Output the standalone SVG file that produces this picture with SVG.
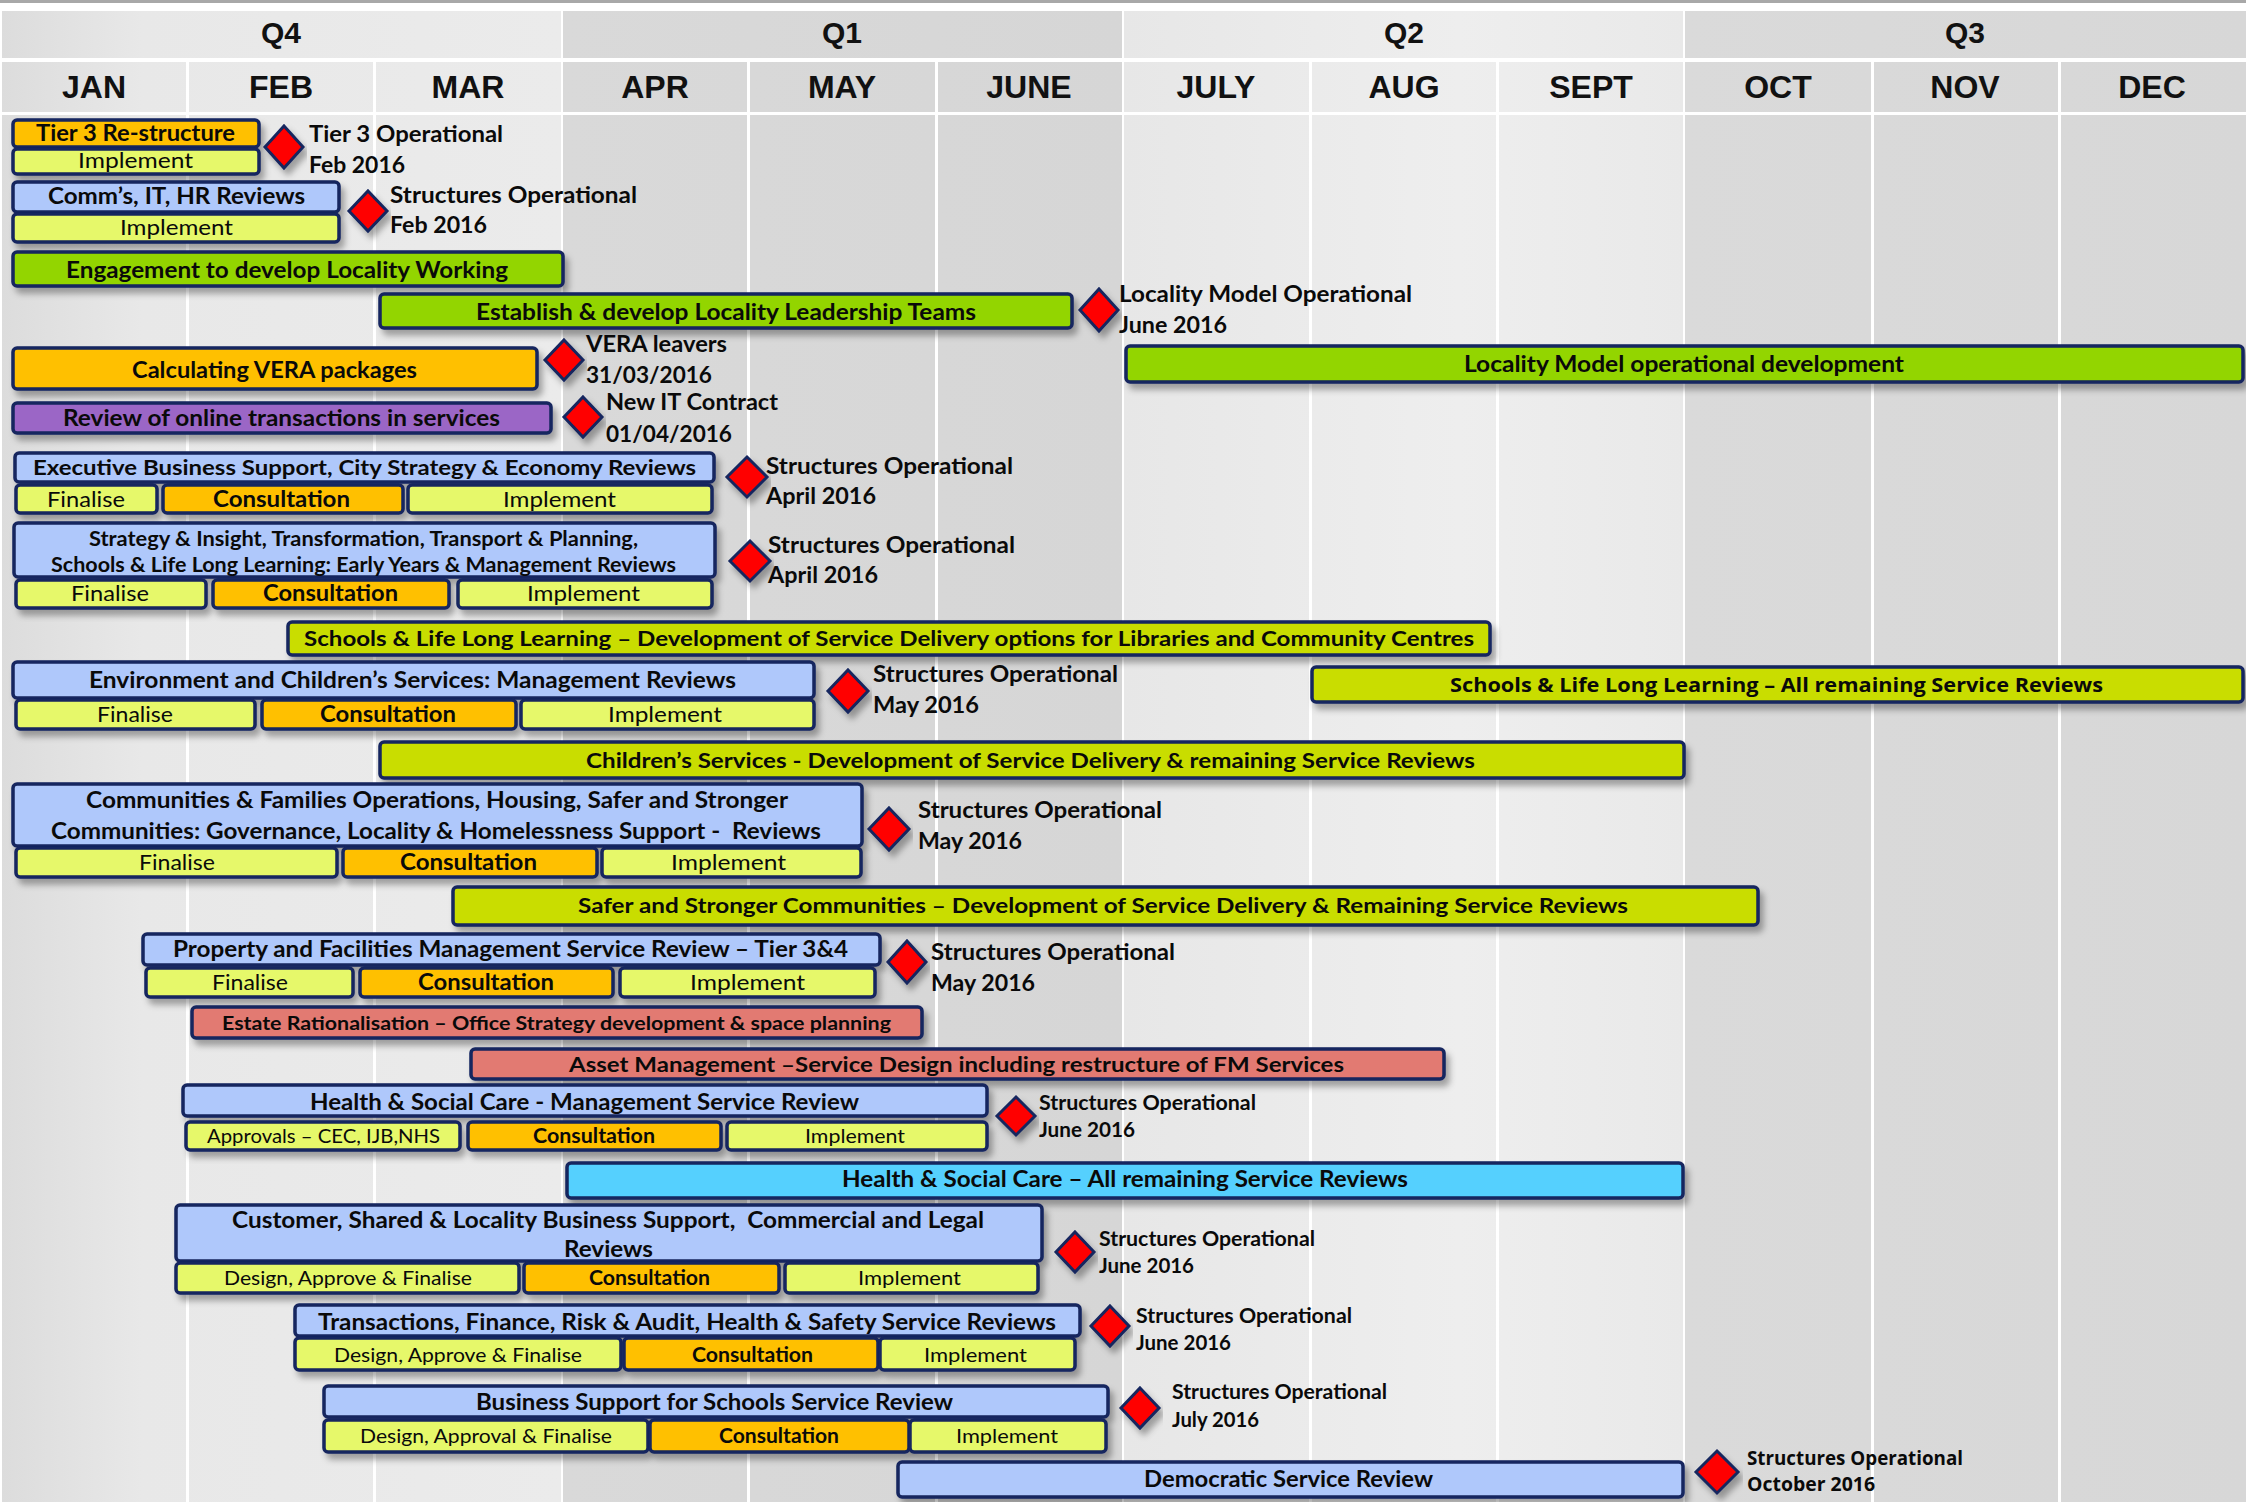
<svg xmlns="http://www.w3.org/2000/svg" width="2246" height="1502" viewBox="0 0 2246 1502">
<defs>
<style>
text{font-family:Lato,'Liberation Sans',sans-serif;fill:#0a0a0a}
.hd{font-family:'Liberation Sans',Arial,sans-serif;font-weight:700;text-anchor:middle;fill:#111}
.b{font-weight:700}
.w{font-family:'Open Sans','DejaVu Sans',sans-serif}
.pre{white-space:pre}
.bar{stroke:#15255e;stroke-width:3.5;filter:url(#sh)}
.or{fill:#FFC000}.yg{fill:#E6F86A}.lb{fill:#AFC8FB}.gr{fill:#93D500}.ch{fill:#C9DD00}.pu{fill:#9B66C6}.sa{fill:#E27A72}.cy{fill:#55D0FE}
.dm{fill:#FF0000;stroke:#15255e;stroke-width:3;stroke-linejoin:miter;filter:url(#sh)}
.vl{fill:#fff}
</style>
<filter id="sh" x="-10%" y="-30%" width="120%" height="180%">
<feDropShadow dx="4" dy="6" stdDeviation="3" flood-color="#000" flood-opacity="0.32"/>
</filter>
<linearGradient id="gQ4" x1="0" y1="0" x2="1" y2="0"><stop offset="0" stop-color="#dcdcdc"/><stop offset="0.25" stop-color="#e8e8e8"/><stop offset="1" stop-color="#ebebeb"/></linearGradient>
<linearGradient id="gQ1" x1="0" y1="0" x2="1" y2="0"><stop offset="0" stop-color="#d9d9d9"/><stop offset="1" stop-color="#d6d6d6"/></linearGradient>
<linearGradient id="gQ2" x1="0" y1="0" x2="1" y2="0"><stop offset="0" stop-color="#e7e7e7"/><stop offset="0.6" stop-color="#eeeeee"/><stop offset="1" stop-color="#e9e9e9"/></linearGradient>
<linearGradient id="gQ3" x1="0" y1="0" x2="1" y2="0"><stop offset="0" stop-color="#dadada"/><stop offset="1" stop-color="#d7d7d7"/></linearGradient>
</defs>
<rect width="2246" height="1502" fill="#fff"/>
<g id="background">
<rect x="0" y="0" width="2246" height="3" fill="#a8a8a8"/>
<rect x="2" y="11" width="559" height="1491" fill="url(#gQ4)"/>
<rect x="563" y="11" width="559" height="1491" fill="url(#gQ1)"/>
<rect x="1124" y="11" width="559" height="1491" fill="url(#gQ2)"/>
<rect x="1685" y="11" width="561" height="1491" fill="url(#gQ3)"/>
<rect class="vl" x="0" y="58" width="2246" height="4"/>
<rect class="vl" x="0" y="112" width="2246" height="3"/>
<rect class="vl" x="186" y="62" width="3" height="1440"/>
<rect class="vl" x="373" y="62" width="3" height="1440"/>
<rect class="vl" x="747" y="62" width="3" height="1440"/>
<rect class="vl" x="935" y="62" width="3" height="1440"/>
<rect class="vl" x="1309" y="62" width="3" height="1440"/>
<rect class="vl" x="1496" y="62" width="3" height="1440"/>
<rect class="vl" x="1871" y="62" width="3" height="1440"/>
<rect class="vl" x="2058" y="62" width="3" height="1440"/>
</g>
<g id="header">
<text class="hd" x="281" y="43" font-size="30">Q4</text>
<text class="hd" x="842" y="43" font-size="30">Q1</text>
<text class="hd" x="1404" y="43" font-size="30">Q2</text>
<text class="hd" x="1965" y="43" font-size="30">Q3</text>
<text class="hd" x="94" y="98" font-size="32">JAN</text>
<text class="hd" x="281" y="98" font-size="32">FEB</text>
<text class="hd" x="468" y="98" font-size="32">MAR</text>
<text class="hd" x="655" y="98" font-size="32">APR</text>
<text class="hd" x="842" y="98" font-size="32">MAY</text>
<text class="hd" x="1029" y="98" font-size="32">JUNE</text>
<text class="hd" x="1216" y="98" font-size="32">JULY</text>
<text class="hd" x="1404" y="98" font-size="32">AUG</text>
<text class="hd" x="1591" y="98" font-size="32">SEPT</text>
<text class="hd" x="1778" y="98" font-size="32">OCT</text>
<text class="hd" x="1965" y="98" font-size="32">NOV</text>
<text class="hd" x="2152" y="98" font-size="32">DEC</text>
</g>
<g id="connectors"/>

<g id="tier3">
<rect class="bar or" x="13" y="120" width="246" height="27" rx="4"/>
<rect class="bar yg" x="13" y="149" width="246" height="25" rx="4"/>
<text class="b" x="36" y="141" font-size="23" textLength="199" lengthAdjust="spacingAndGlyphs">Tier 3 Re-structure</text>
<text x="78" y="168" font-size="21" textLength="115" lengthAdjust="spacingAndGlyphs">Implement</text>
</g>
<g id="m-tier3">
<polygon class="dm" points="284,126 303,147 284,168 265,147"/>
<text class="b" x="309" y="142" font-size="22" textLength="194" lengthAdjust="spacingAndGlyphs">Tier 3 Operational</text>
<text class="b" x="309" y="173" font-size="22" textLength="96" lengthAdjust="spacingAndGlyphs">Feb 2016</text>
</g>

<g id="comms">
<rect class="bar lb" x="13" y="182" width="326" height="30" rx="4"/>
<rect class="bar yg" x="13" y="214" width="326" height="28" rx="4"/>
<text class="b" x="48" y="204" font-size="23" textLength="257" lengthAdjust="spacingAndGlyphs">Comm’s, IT, HR Reviews</text>
<text x="120" y="235" font-size="22" textLength="113" lengthAdjust="spacingAndGlyphs">Implement</text>
</g>
<g id="m-comms">
<polygon class="dm" points="368,191 387,211 368,231 349,211"/>
<text class="b" x="390" y="203" font-size="22" textLength="247" lengthAdjust="spacingAndGlyphs">Structures Operational</text>
<text class="b" x="390" y="233" font-size="22" textLength="97" lengthAdjust="spacingAndGlyphs">Feb 2016</text>
</g>

<g id="engagement">
<rect class="bar gr" x="13" y="252" width="550" height="34" rx="4"/>
<text class="b" x="66" y="278" font-size="23" textLength="442" lengthAdjust="spacingAndGlyphs">Engagement to develop Locality Working</text>
</g>

<g id="establish">
<rect class="bar gr" x="380" y="294" width="692" height="34" rx="4"/>
<text class="b" x="476" y="320" font-size="23" textLength="500" lengthAdjust="spacingAndGlyphs">Establish &amp; develop Locality Leadership Teams</text>
</g>
<g id="m-locality">
<polygon class="dm" points="1099,289 1118,310 1099,331 1080,310"/>
<text class="b" x="1119" y="302" font-size="22" textLength="293" lengthAdjust="spacingAndGlyphs">Locality Model Operational</text>
<text class="b" x="1119" y="333" font-size="22" textLength="108" lengthAdjust="spacingAndGlyphs">June 2016</text>
</g>

<g id="vera">
<rect class="bar or" x="13" y="348" width="524" height="41" rx="4"/>
<text class="b" x="132" y="378" font-size="23" textLength="285" lengthAdjust="spacingAndGlyphs">Calculating VERA packages</text>
</g>
<g id="m-vera">
<polygon class="dm" points="564,340 583,360 564,380 545,360"/>
<text class="b" x="586" y="352" font-size="22" textLength="141" lengthAdjust="spacingAndGlyphs">VERA leavers</text>
<text class="b" x="586" y="383" font-size="22" textLength="126" lengthAdjust="spacingAndGlyphs">31/03/2016</text>
</g>

<g id="online">
<rect class="bar pu" x="13" y="403" width="538" height="30" rx="4"/>
<text class="b" x="63" y="426" font-size="23" textLength="437" lengthAdjust="spacingAndGlyphs">Review of online transactions in services</text>
</g>
<g id="m-itcontract">
<polygon class="dm" points="583,397 602,417 583,437 564,417"/>
<text class="b" x="606" y="410" font-size="22" textLength="172" lengthAdjust="spacingAndGlyphs">New IT Contract</text>
<text class="b" x="606" y="442" font-size="22" textLength="126" lengthAdjust="spacingAndGlyphs">01/04/2016</text>
</g>

<g id="locality-dev">
<rect class="bar gr" x="1126" y="346" width="1117" height="36" rx="4"/>
<text class="b" x="1464" y="372" font-size="23" textLength="440" lengthAdjust="spacingAndGlyphs">Locality Model operational development</text>
</g>

<g id="executive">
<rect class="bar lb" x="15" y="453" width="699" height="29" rx="4"/>
<rect class="bar yg" x="16" y="485" width="141" height="28" rx="4"/>
<rect class="bar or" x="163" y="485" width="240" height="28" rx="4"/>
<rect class="bar yg" x="408" y="485" width="304" height="28" rx="4"/>
<text class="b" x="33" y="475" font-size="20" textLength="663" lengthAdjust="spacingAndGlyphs">Executive Business Support, City Strategy &amp; Economy Reviews</text>
<text x="47" y="507" font-size="22" textLength="78" lengthAdjust="spacingAndGlyphs">Finalise</text>
<text class="b" x="213" y="507" font-size="22" textLength="137" lengthAdjust="spacingAndGlyphs">Consultation</text>
<text x="503" y="507" font-size="22" textLength="113" lengthAdjust="spacingAndGlyphs">Implement</text>
</g>
<g id="m-executive">
<polygon class="dm" points="747,457 767,477 747,497 727,477"/>
<text class="b" x="766" y="474" font-size="22" textLength="247" lengthAdjust="spacingAndGlyphs">Structures Operational</text>
<text class="b" x="766" y="504" font-size="22" textLength="110" lengthAdjust="spacingAndGlyphs">April 2016</text>
</g>

<g id="strategy">
<rect class="bar lb" x="14" y="523" width="701" height="54" rx="4"/>
<rect class="bar yg" x="16" y="580" width="190" height="28" rx="4"/>
<rect class="bar or" x="213" y="580" width="236" height="28" rx="4"/>
<rect class="bar yg" x="458" y="580" width="254" height="28" rx="4"/>
<text class="b" x="89" y="546" font-size="21" textLength="549" lengthAdjust="spacingAndGlyphs">Strategy &amp; Insight, Transformation, Transport &amp; Planning,</text>
<text class="b" x="51" y="572" font-size="21" textLength="625" lengthAdjust="spacingAndGlyphs">Schools &amp; Life Long Learning: Early Years &amp; Management Reviews</text>
<text x="71" y="601" font-size="22" textLength="78" lengthAdjust="spacingAndGlyphs">Finalise</text>
<text class="b" x="263" y="601" font-size="22" textLength="135" lengthAdjust="spacingAndGlyphs">Consultation</text>
<text x="527" y="601" font-size="22" textLength="113" lengthAdjust="spacingAndGlyphs">Implement</text>
</g>
<g id="m-strategy">
<polygon class="dm" points="750,541 770,561 750,581 730,561"/>
<text class="b" x="768" y="553" font-size="22" textLength="247" lengthAdjust="spacingAndGlyphs">Structures Operational</text>
<text class="b" x="768" y="583" font-size="22" textLength="110" lengthAdjust="spacingAndGlyphs">April 2016</text>
</g>

<g id="sll-dev">
<rect class="bar ch" x="288" y="622" width="1202" height="33" rx="4"/>
<text class="b" x="304" y="646" font-size="21" textLength="1170" lengthAdjust="spacingAndGlyphs">Schools &amp; Life Long Learning – Development of Service Delivery options for Libraries and Community Centres</text>
</g>

<g id="environment">
<rect class="bar lb" x="13" y="662" width="801" height="36" rx="4"/>
<rect class="bar yg" x="16" y="700" width="239" height="29" rx="4"/>
<rect class="bar or" x="262" y="700" width="254" height="29" rx="4"/>
<rect class="bar yg" x="521" y="700" width="293" height="29" rx="4"/>
<text class="b" x="89" y="688" font-size="22" textLength="647" lengthAdjust="spacingAndGlyphs">Environment and Children’s Services: Management Reviews</text>
<text x="97" y="722" font-size="22" textLength="76" lengthAdjust="spacingAndGlyphs">Finalise</text>
<text class="b" x="320" y="722" font-size="22" textLength="136" lengthAdjust="spacingAndGlyphs">Consultation</text>
<text x="608" y="722" font-size="22" textLength="114" lengthAdjust="spacingAndGlyphs">Implement</text>
</g>
<g id="m-environment">
<polygon class="dm" points="848,670 868,691 848,712 828,691"/>
<text class="b" x="873" y="682" font-size="22" textLength="245" lengthAdjust="spacingAndGlyphs">Structures Operational</text>
<text class="b" x="873" y="713" font-size="22" textLength="106" lengthAdjust="spacingAndGlyphs">May 2016</text>
</g>

<g id="sll-all">
<rect class="bar ch" x="1312" y="667" width="931" height="35" rx="4"/>
<text class="b w" x="1450" y="692" font-size="20" textLength="653" lengthAdjust="spacingAndGlyphs">Schools &amp; Life Long Learning – All remaining Service Reviews</text>
</g>

<g id="children-dev">
<rect class="bar ch" x="380" y="742" width="1304" height="36" rx="4"/>
<text class="b" x="586" y="768" font-size="21" textLength="889" lengthAdjust="spacingAndGlyphs">Children’s Services - Development of Service Delivery &amp; remaining Service Reviews</text>
</g>

<g id="communities">
<rect class="bar lb" x="13" y="784" width="849" height="62" rx="4"/>
<rect class="bar yg" x="16" y="848" width="321" height="29" rx="4"/>
<rect class="bar or" x="343" y="848" width="254" height="29" rx="4"/>
<rect class="bar yg" x="602" y="848" width="259" height="29" rx="4"/>
<text class="b" x="86" y="808" font-size="22" textLength="702" lengthAdjust="spacingAndGlyphs">Communities &amp; Families Operations, Housing, Safer and Stronger</text>
<text class="b pre" x="51" y="839" font-size="22" textLength="770" lengthAdjust="spacingAndGlyphs">Communities: Governance, Locality &amp; Homelessness Support -  Reviews</text>
<text x="139" y="870" font-size="22" textLength="76" lengthAdjust="spacingAndGlyphs">Finalise</text>
<text class="b" x="400" y="870" font-size="22" textLength="137" lengthAdjust="spacingAndGlyphs">Consultation</text>
<text x="671" y="870" font-size="22" textLength="115" lengthAdjust="spacingAndGlyphs">Implement</text>
</g>
<g id="m-communities">
<polygon class="dm" points="889,808 909,829 889,850 869,829"/>
<text class="b" x="918" y="818" font-size="22" textLength="244" lengthAdjust="spacingAndGlyphs">Structures Operational</text>
<text class="b" x="918" y="849" font-size="22" textLength="104" lengthAdjust="spacingAndGlyphs">May 2016</text>
</g>

<g id="safer-dev">
<rect class="bar ch" x="453" y="887" width="1305" height="38" rx="4"/>
<text class="b" x="578" y="913" font-size="21" textLength="1050" lengthAdjust="spacingAndGlyphs">Safer and Stronger Communities – Development of Service Delivery &amp; Remaining Service Reviews</text>
</g>

<g id="property">
<rect class="bar lb" x="143" y="934" width="737" height="31" rx="4"/>
<rect class="bar yg" x="146" y="968" width="207" height="29" rx="4"/>
<rect class="bar or" x="360" y="968" width="253" height="29" rx="4"/>
<rect class="bar yg" x="620" y="968" width="255" height="29" rx="4"/>
<text class="b" x="173" y="957" font-size="22" textLength="675" lengthAdjust="spacingAndGlyphs">Property and Facilities Management Service Review – Tier 3&amp;4</text>
<text x="212" y="990" font-size="22" textLength="76" lengthAdjust="spacingAndGlyphs">Finalise</text>
<text class="b" x="418" y="990" font-size="22" textLength="136" lengthAdjust="spacingAndGlyphs">Consultation</text>
<text x="690" y="990" font-size="22" textLength="115" lengthAdjust="spacingAndGlyphs">Implement</text>
</g>
<g id="m-property">
<polygon class="dm" points="907,941 926,962 907,983 888,962"/>
<text class="b" x="931" y="960" font-size="22" textLength="244" lengthAdjust="spacingAndGlyphs">Structures Operational</text>
<text class="b" x="931" y="991" font-size="22" textLength="104" lengthAdjust="spacingAndGlyphs">May 2016</text>
</g>

<g id="estate">
<rect class="bar sa" x="192" y="1007" width="730" height="31" rx="4"/>
<text class="b" x="222" y="1030" font-size="19" textLength="669" lengthAdjust="spacingAndGlyphs">Estate Rationalisation – Office Strategy development &amp; space planning</text>
</g>

<g id="asset">
<rect class="bar sa" x="471" y="1049" width="973" height="30" rx="4"/>
<text class="b" x="569" y="1072" font-size="20" textLength="775" lengthAdjust="spacingAndGlyphs">Asset Management –Service Design including restructure of FM Services</text>
</g>

<g id="hsc-management">
<rect class="bar lb" x="183" y="1085" width="804" height="31" rx="4"/>
<rect class="bar yg" x="186" y="1122" width="274" height="28" rx="4"/>
<rect class="bar or" x="468" y="1122" width="253" height="28" rx="4"/>
<rect class="bar yg" x="727" y="1122" width="260" height="28" rx="4"/>
<text class="b" x="310" y="1110" font-size="22" textLength="549" lengthAdjust="spacingAndGlyphs">Health &amp; Social Care - Management Service Review</text>
<text x="207" y="1143" font-size="20" textLength="233" lengthAdjust="spacingAndGlyphs">Approvals – CEC, IJB,NHS</text>
<text class="b" x="533" y="1143" font-size="20" textLength="122" lengthAdjust="spacingAndGlyphs">Consultation</text>
<text x="805" y="1143" font-size="20" textLength="100" lengthAdjust="spacingAndGlyphs">Implement</text>
</g>
<g id="m-hsc">
<polygon class="dm" points="1016,1097 1035,1116 1016,1135 997,1116"/>
<text class="b" x="1039" y="1110" font-size="20" textLength="217" lengthAdjust="spacingAndGlyphs">Structures Operational</text>
<text class="b" x="1039" y="1137" font-size="20" textLength="96" lengthAdjust="spacingAndGlyphs">June 2016</text>
</g>

<g id="hsc-all">
<rect class="bar cy" x="567" y="1163" width="1116" height="35" rx="4"/>
<text class="b" x="842" y="1187" font-size="22" textLength="566" lengthAdjust="spacingAndGlyphs">Health &amp; Social Care – All remaining Service Reviews</text>
</g>

<g id="customer">
<rect class="bar lb" x="176" y="1205" width="866" height="56" rx="4"/>
<rect class="bar yg" x="176" y="1263" width="343" height="30" rx="4"/>
<rect class="bar or" x="524" y="1263" width="255" height="30" rx="4"/>
<rect class="bar yg" x="785" y="1263" width="253" height="30" rx="4"/>
<text class="b pre" x="232" y="1228" font-size="22" textLength="752" lengthAdjust="spacingAndGlyphs">Customer, Shared &amp; Locality Business Support,  Commercial and Legal</text>
<text class="b" x="564" y="1257" font-size="22" textLength="89" lengthAdjust="spacingAndGlyphs">Reviews</text>
<text x="224" y="1285" font-size="20" textLength="248" lengthAdjust="spacingAndGlyphs">Design, Approve &amp; Finalise</text>
<text class="b" x="589" y="1285" font-size="20" textLength="121" lengthAdjust="spacingAndGlyphs">Consultation</text>
<text x="858" y="1285" font-size="20" textLength="103" lengthAdjust="spacingAndGlyphs">Implement</text>
</g>
<g id="m-customer">
<polygon class="dm" points="1075,1232 1094,1252 1075,1272 1056,1252"/>
<text class="b" x="1099" y="1246" font-size="20" textLength="216" lengthAdjust="spacingAndGlyphs">Structures Operational</text>
<text class="b" x="1099" y="1273" font-size="20" textLength="95" lengthAdjust="spacingAndGlyphs">June 2016</text>
</g>

<g id="transactions">
<rect class="bar lb" x="295" y="1305" width="785" height="31" rx="4"/>
<rect class="bar yg" x="295" y="1338" width="326" height="32" rx="4"/>
<rect class="bar or" x="624" y="1338" width="254" height="32" rx="4"/>
<rect class="bar yg" x="880" y="1338" width="195" height="32" rx="4"/>
<text class="b" x="318" y="1330" font-size="22" textLength="738" lengthAdjust="spacingAndGlyphs">Transactions, Finance, Risk &amp; Audit, Health &amp; Safety Service Reviews</text>
<text x="334" y="1362" font-size="20" textLength="248" lengthAdjust="spacingAndGlyphs">Design, Approve &amp; Finalise</text>
<text class="b" x="692" y="1362" font-size="20" textLength="121" lengthAdjust="spacingAndGlyphs">Consultation</text>
<text x="924" y="1362" font-size="20" textLength="103" lengthAdjust="spacingAndGlyphs">Implement</text>
</g>
<g id="m-transactions">
<polygon class="dm" points="1110,1306 1129,1326 1110,1346 1091,1326"/>
<text class="b" x="1136" y="1323" font-size="20" textLength="216" lengthAdjust="spacingAndGlyphs">Structures Operational</text>
<text class="b" x="1136" y="1350" font-size="20" textLength="95" lengthAdjust="spacingAndGlyphs">June 2016</text>
</g>

<g id="business-support">
<rect class="bar lb" x="324" y="1386" width="784" height="31" rx="4"/>
<rect class="bar yg" x="324" y="1420" width="324" height="32" rx="4"/>
<rect class="bar or" x="650" y="1420" width="259" height="32" rx="4"/>
<rect class="bar yg" x="910" y="1420" width="196" height="32" rx="4"/>
<text class="b" x="476" y="1410" font-size="22" textLength="477" lengthAdjust="spacingAndGlyphs">Business Support for Schools Service Review</text>
<text x="360" y="1443" font-size="20" textLength="252" lengthAdjust="spacingAndGlyphs">Design, Approval &amp; Finalise</text>
<text class="b" x="719" y="1443" font-size="20" textLength="120" lengthAdjust="spacingAndGlyphs">Consultation</text>
<text x="956" y="1443" font-size="20" textLength="102" lengthAdjust="spacingAndGlyphs">Implement</text>
</g>
<g id="m-business">
<polygon class="dm" points="1140,1388 1159,1408 1140,1428 1121,1408"/>
<text class="b" x="1172" y="1399" font-size="20" textLength="215" lengthAdjust="spacingAndGlyphs">Structures Operational</text>
<text class="b" x="1172" y="1427" font-size="20" textLength="87" lengthAdjust="spacingAndGlyphs">July 2016</text>
</g>

<g id="democratic">
<rect class="bar lb" x="898" y="1462" width="785" height="35" rx="4"/>
<text class="b" x="1144" y="1487" font-size="22" textLength="289" lengthAdjust="spacingAndGlyphs">Democratic Service Review</text>
</g>
<g id="m-democratic">
<polygon class="dm" points="1717,1451 1738,1472 1717,1493 1696,1472"/>
<text class="b w" x="1747" y="1465" font-size="19" textLength="216" lengthAdjust="spacingAndGlyphs">Structures Operational</text>
<text class="b w" x="1747" y="1491" font-size="19" textLength="128" lengthAdjust="spacingAndGlyphs">October 2016</text>
</g>
</svg>
